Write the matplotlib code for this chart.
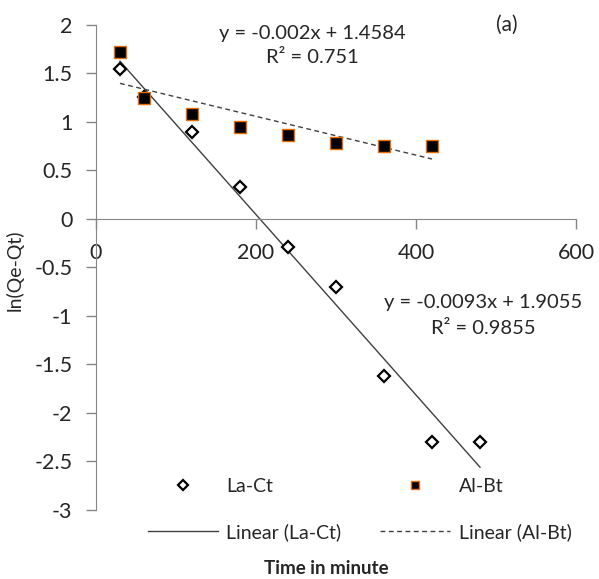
import numpy as np
import matplotlib.pyplot as plt

plt.rcParams['font.family'] = ['Lato', 'DejaVu Sans']

# data
time_la = [30, 60, 120, 180, 240, 300, 360, 420, 480]
ln_la = [1.55, 1.26, 0.90, 0.33, -0.29, -0.70, -1.62, -2.30, -2.30]
time_al = [30, 60, 120, 180, 240, 300, 360, 420]
ln_al = [1.72, 1.25, 1.08, 0.95, 0.87, 0.78, 0.75, 0.75]

# trendline coefficients (as printed on the chart)
slope_la, icpt_la = -0.0093, 1.9055
slope_al, icpt_al = -0.002, 1.4584

x_ticks = [0, 200, 400, 600]
y_ticks = [2, 1.5, 1, 0.5, 0, -0.5, -1, -1.5, -2, -2.5, -3]

txt = '#262626'
grey = '#868686'

fig = plt.figure(figsize=(5.99, 5.79), dpi=100)
ax = fig.add_axes([96/599, 1 - 510/579, 480/599, 485/579])

ax.plot(time_la, ln_la, linestyle='none', marker='D', markersize=6.5,
        markerfacecolor='white', markeredgecolor='black', markeredgewidth=1.6,
        label='La-Ct', zorder=3)
ax.plot(time_al, ln_al, linestyle='none', marker='s', markersize=8,
        markerfacecolor='black', markeredgecolor='#E46C0A', markeredgewidth=1.0,
        label='Al-Bt', zorder=4)

xl = np.array([min(time_la), max(time_la)])
ax.plot(xl, slope_la * xl + icpt_la, color='#404040', lw=1.0,
        label='Linear (La-Ct)', zorder=2)
xa = np.array([min(time_al), max(time_al)])
ax.plot(xa, slope_al * xa + icpt_al, color='#404040', lw=1.0,
        linestyle=(0, (3.5, 2.5)), label='Linear (Al-Bt)', zorder=2)

ax.set_xlim(0, 600)
ax.set_ylim(-3, 2)
ax.set_xticks(x_ticks)
ax.set_yticks(y_ticks)
ax.set_xticklabels([str(v) for v in x_ticks])
ax.set_yticklabels([f'{v:g}' for v in y_ticks])

# y axis on the left, x axis through zero
for s in ['top', 'right']:
    ax.spines[s].set_visible(False)
ax.spines['bottom'].set_position(('data', 0))
ax.spines['left'].set_color(grey)
ax.spines['bottom'].set_color(grey)
ax.tick_params(axis='both', colors=grey, labelcolor=txt, labelsize=15.5,
               length=7, width=1, direction='out')
ax.tick_params(axis='x', pad=10)
ax.tick_params(axis='y', pad=10)

ax.set_ylabel('ln(Qe-Qt)', fontsize=14, color=txt)
ax.yaxis.set_label_coords(-0.15, 0.495)

fig.text(326/599, 1 - 568/579, 'Time in minute', ha='center', va='center',
         fontsize=13.5, fontweight='bold', color=txt)

ax.text(270, 1.91, 'y = -0.002x + 1.4584', ha='center', va='center',
        fontsize=14.5, color=txt)
ax.text(270, 1.66, 'R² = 0.751', ha='center', va='center',
        fontsize=14.5, color=txt)
ax.text(514, 2.0, '(a)', ha='center', va='center', fontsize=15, color=txt)
ax.text(484, -0.86, 'y = -0.0093x + 1.9055', ha='center', va='center',
        fontsize=14.5, color=txt)
ax.text(484, -1.13, 'R² = 0.9855', ha='center', va='center',
        fontsize=14.5, color=txt)

h, l = ax.get_legend_handles_labels()
order = [0, 2, 1, 3]
fig.legend([h[i] for i in order], [l[i] for i in order], ncol=2,
           loc='upper left', bbox_to_anchor=(138/599, 1 - 468/579),
           frameon=False, fontsize=14, handlelength=3.6, handletextpad=0.45,
           columnspacing=2.0, labelspacing=1.45, markerscale=0.8,
           borderpad=0, labelcolor=txt)

fig.savefig('out.png', dpi=100)
